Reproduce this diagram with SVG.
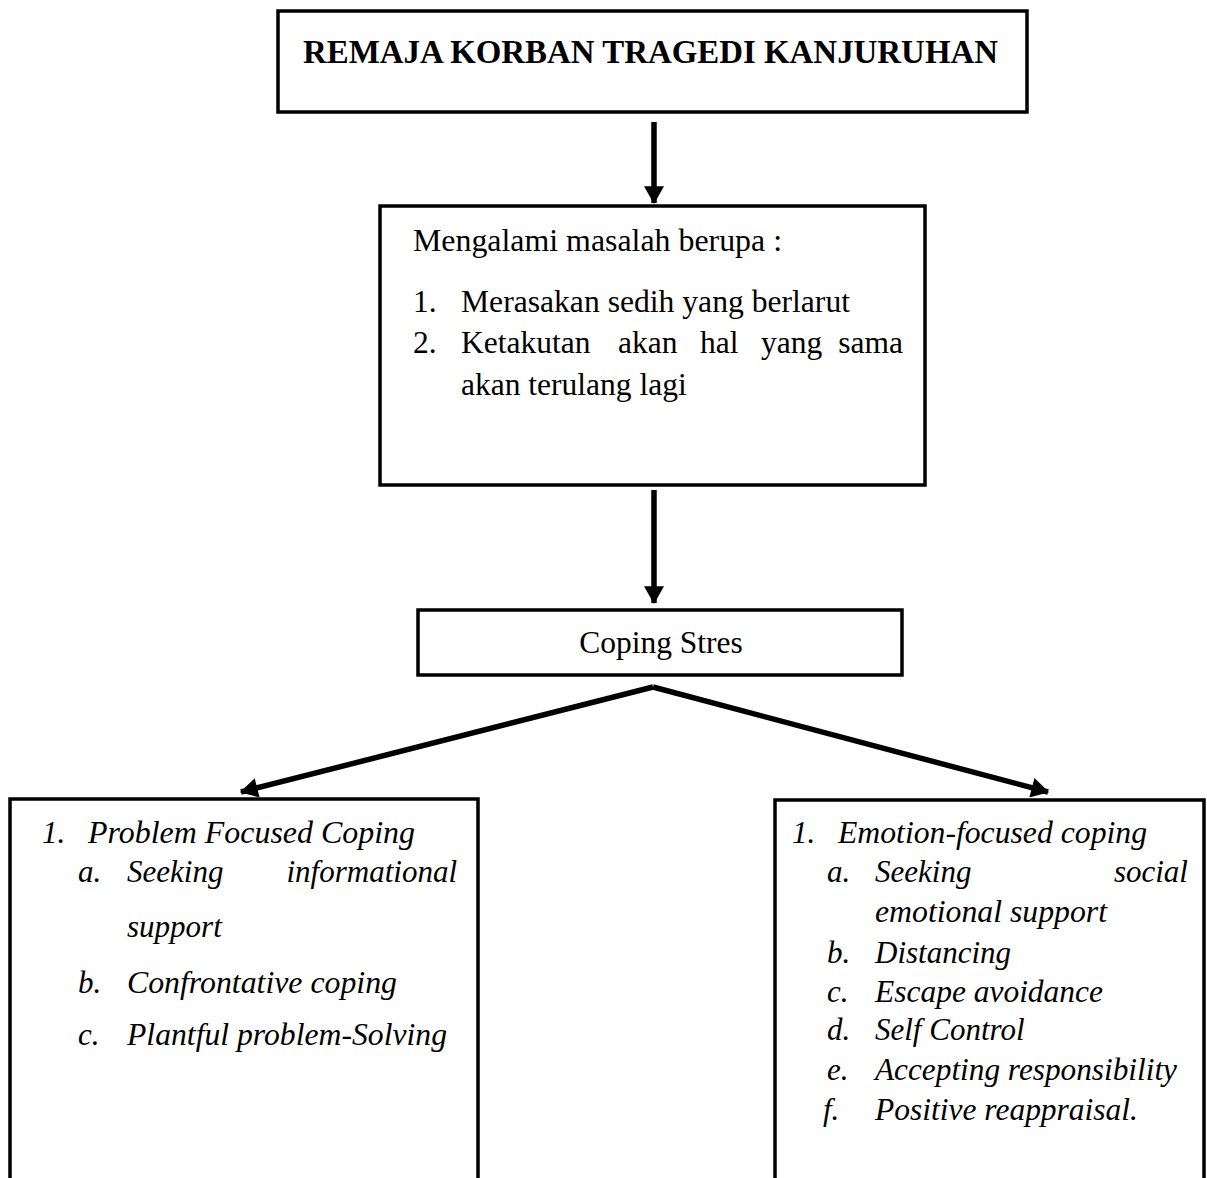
<svg xmlns="http://www.w3.org/2000/svg" width="1207" height="1178" viewBox="0 0 1207 1178">
<defs>
<style>
.box{fill:#fff;stroke:#000;stroke-width:3.5}
.open{fill:none;stroke:#000;stroke-width:3.5}
.t{font-family:"Liberation Serif","Times New Roman",serif;font-size:31.5px;fill:#000}
.b{font-weight:bold;font-size:33px}
.i{font-family:"Liberation Serif","Times New Roman",serif;font-size:31px;font-style:italic;fill:#000}
.conn{stroke:#000;stroke-width:5.5;fill:none}
</style>
<marker id="ah" markerUnits="userSpaceOnUse" markerWidth="20" markerHeight="20" viewBox="0 0 16 18" refX="15" refY="9" orient="auto">
<path d="M0,0 L16,9 L0,18 Z" fill="#000"/>
</marker>
</defs>
<g id="connectors">
<line class="conn" x1="654" y1="122" x2="654" y2="203" marker-end="url(#ah)"/>
<line class="conn" x1="654" y1="490" x2="654" y2="603" marker-end="url(#ah)"/>
<line class="conn" x1="653" y1="687" x2="241" y2="792" marker-end="url(#ah)"/>
<line class="conn" x1="653" y1="687" x2="1048" y2="792" marker-end="url(#ah)"/>
</g>
<g id="node-top">
<rect class="box" x="278" y="11" width="749" height="101"/>
<text class="t b" x="303" y="63" textLength="695" lengthAdjust="spacingAndGlyphs">REMAJA KORBAN TRAGEDI KANJURUHAN</text>
</g>
<g id="node-masalah">
<rect class="box" x="380" y="206" width="545" height="279"/>
<text class="t" x="413" y="251" textLength="369" lengthAdjust="spacingAndGlyphs">Mengalami masalah berupa :</text>
<text class="t" x="413" y="312">1.</text>
<text class="t" x="461" y="312" textLength="389" lengthAdjust="spacingAndGlyphs">Merasakan sedih yang berlarut</text>
<text class="t" x="413" y="353">2.</text>
<text class="t" x="461" y="353">Ketakutan</text>
<text class="t" x="618" y="353">akan</text>
<text class="t" x="700" y="353">hal</text>
<text class="t" x="761" y="353">yang</text>
<text class="t" x="903" y="353" text-anchor="end">sama</text>
<text class="t" x="461" y="395">akan terulang lagi</text>
</g>
<g id="node-coping">
<rect class="box" x="418" y="610" width="484" height="65"/>
<text class="t" x="661" y="653" text-anchor="middle">Coping Stres</text>
</g>
<g id="node-problem">
<path class="open" d="M10,1180 L10,799 L478,799 L478,1180"/>
<text class="i" x="42" y="843">1.</text>
<text class="i" x="88" y="843" textLength="327" lengthAdjust="spacingAndGlyphs">Problem Focused Coping</text>
<text class="i" x="78" y="882">a.</text>
<text class="i" x="127" y="882">Seeking</text>
<text class="i" x="457" y="882" text-anchor="end">informational</text>
<text class="i" x="127" y="937">support</text>
<text class="i" x="78" y="993">b.</text>
<text class="i" x="127" y="993" textLength="270" lengthAdjust="spacingAndGlyphs">Confrontative coping</text>
<text class="i" x="78" y="1045">c.</text>
<text class="i" x="127" y="1045" textLength="320" lengthAdjust="spacingAndGlyphs">Plantful problem-Solving</text>
</g>
<g id="node-emotion">
<path class="open" d="M775,1180 L775,800 L1204,800 L1204,1180"/>
<text class="i" x="792" y="843">1.</text>
<text class="i" x="838" y="843" textLength="309" lengthAdjust="spacingAndGlyphs">Emotion-focused coping</text>
<text class="i" x="827" y="882">a.</text>
<text class="i" x="875" y="882">Seeking</text>
<text class="i" x="1188" y="882" text-anchor="end">social</text>
<text class="i" x="875" y="922" textLength="232" lengthAdjust="spacingAndGlyphs">emotional support</text>
<text class="i" x="827" y="963">b.</text>
<text class="i" x="875" y="963">Distancing</text>
<text class="i" x="827" y="1002">c.</text>
<text class="i" x="875" y="1002" textLength="228" lengthAdjust="spacingAndGlyphs">Escape avoidance</text>
<text class="i" x="827" y="1040">d.</text>
<text class="i" x="875" y="1040">Self Control</text>
<text class="i" x="827" y="1080">e.</text>
<text class="i" x="875" y="1080" textLength="302" lengthAdjust="spacingAndGlyphs">Accepting responsibility</text>
<text class="i" x="823" y="1120">f.</text>
<text class="i" x="875" y="1120" textLength="263" lengthAdjust="spacingAndGlyphs">Positive reappraisal.</text>
</g>
</svg>
